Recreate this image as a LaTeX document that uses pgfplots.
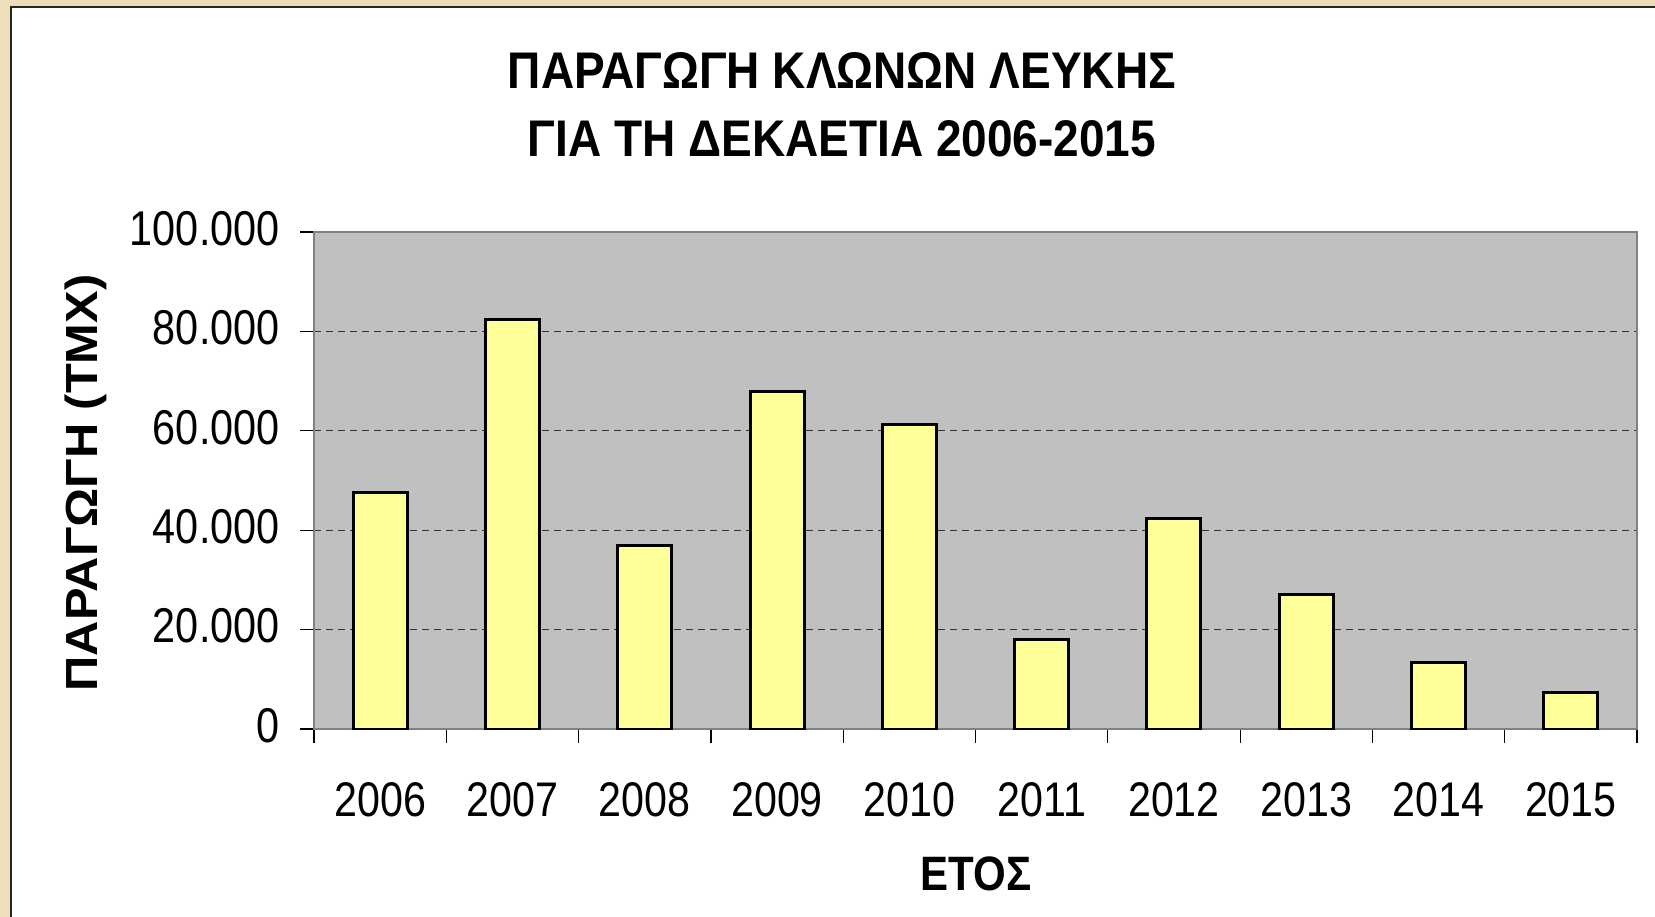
\documentclass[border=0pt]{standalone}
\usepackage{fontspec}
\setmainfont{Liberation Sans}
\usepackage{pgfplots}
\pgfplotsset{compat=1.18}
\definecolor{beige}{RGB}{238,222,186}
\definecolor{plotgrey}{RGB}{192,192,192}
\definecolor{baryellow}{RGB}{255,255,153}
\definecolor{framegrey}{RGB}{128,128,128}
\begin{document}
\begin{tikzpicture}
\path[use as bounding box] (0,0) rectangle (827.5bp,-458.5bp);
\fill[beige] (0,0) rectangle (827.5bp,-458.5bp);
\fill[white] (5.5bp,-3.5bp) rectangle (830bp,-460bp);
\draw[black!85, line width=1bp] (5.5bp,-460bp) -- (5.5bp,-3.5bp) -- (830bp,-3.5bp);
\begin{axis}[
  at={(157bp,-364.5bp)}, anchor=south west,
  scale only axis, width=661.5bp, height=248.5bp,
  axis background/.style={fill=plotgrey},
  xmin=-0.5, xmax=9.5, ymin=0, ymax=100000,
  xtick={-0.5,0.5,1.5,2.5,3.5,4.5,5.5,6.5,7.5,8.5,9.5},
  x tick label as interval,
  xticklabels={2006,2007,2008,2009,2010,2011,2012,2013,2014,2015},
  ytick={0,20000,40000,60000,80000,100000},
  scaled y ticks=false,
  yticklabel style={/pgf/number format/fixed, /pgf/number format/1000 sep={.}, /pgf/number format/assume math mode=true},
  yticklabel style={font=\fontsize{20.7bp}{24bp}\selectfont, anchor=east, inner sep=0pt, xshift=-10bp, yshift=1.75bp, yscale=1.18},
  xticklabel style={font=\fontsize{20.6bp}{24bp}\selectfont, anchor=north, inner sep=0pt, yshift=-19.3bp, yscale=1.18},
  xtick pos=left, ytick pos=left,
  tick align=outside, major tick length=7bp,
  tick style={black, line width=0.6bp},
  axis line style={draw=framegrey, line width=1.3bp},
  ymajorgrids,
  major grid style={black!80, dash pattern=on 3.5bp off 2.5bp, line width=0.5bp},
  title={ΠΑΡΑΓΩΓΗ ΚΛΩΝΩΝ ΛΕΥΚΗΣ\\ΓΙΑ ΤΗ ΔΕΚΑΕΤΙΑ 2006-2015},
  title style={at={(axis description cs:0.399,1.232)}, anchor=center, align=center, inner sep=0pt, yscale=1.12, font=\bfseries\fontsize{23bp}{30.2bp}\selectfont},
  xlabel={ΕΤΟΣ},
  xlabel style={at={(axis description cs:0.5004,-0.2918)}, anchor=center, inner sep=0pt, yscale=1.15, font=\bfseries\fontsize{21bp}{25bp}\selectfont},
  ylabel={ΠΑΡΑΓΩΓΗ (ΤΜΧ)},
  ylabel style={at={(axis description cs:-0.1725,0.495)}, anchor=center, inner sep=0pt, xscale=1.085, font=\bfseries\fontsize{22.5bp}{27bp}\selectfont},
]
\addplot[ybar, bar width=0.408, fill=baryellow, draw=black, line width=1.5bp]
  coordinates {(0,47500) (1,82400) (2,36900) (3,68000) (4,61200) (5,18000) (6,42300) (7,27100) (8,13400) (9,7400)};
\end{axis}
\end{tikzpicture}
\end{document}
